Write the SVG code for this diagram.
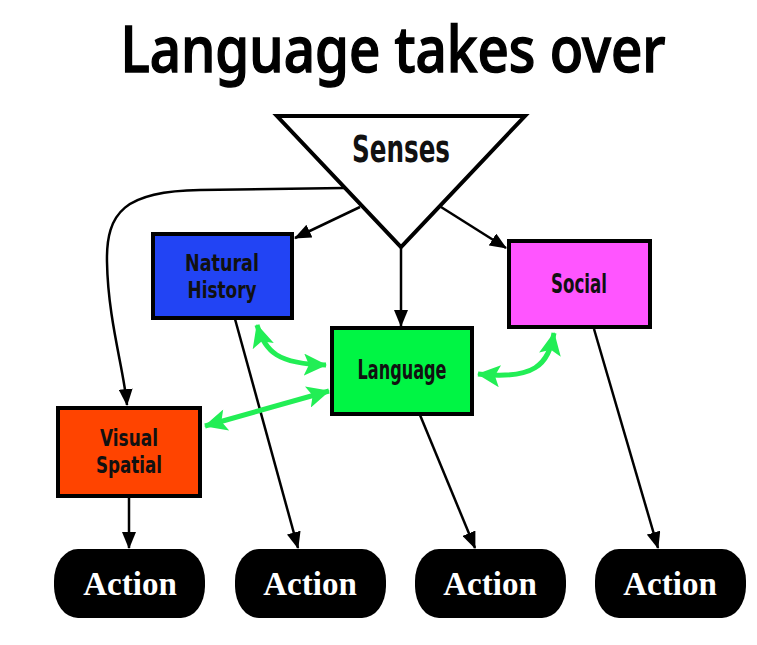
<svg xmlns="http://www.w3.org/2000/svg" width="757" height="645" viewBox="0 0 757 645">
<style>
.box{stroke:#000;stroke-width:4}
.lbl{font-family:"DejaVu Sans Condensed","DejaVu Sans",sans-serif;font-weight:bold;font-size:26px;fill:#111;text-anchor:middle}
.two{font-size:23px}
.big{font-size:38px}
.act{fill:#000}
.acttxt{font-family:"Liberation Serif",serif;font-weight:bold;font-size:33px;fill:#fff;text-anchor:middle}
.blk{fill:none;stroke:#000;stroke-width:2.5}
.grn{fill:none;stroke:#22ee55;stroke-width:5}
.title{font-family:"Noto Sans",sans-serif;font-size:64px;text-anchor:middle;fill:#000}
</style>
<defs>
<marker id="ah" markerUnits="userSpaceOnUse" markerWidth="18" markerHeight="14" refX="16" refY="7" orient="auto">
<path d="M0,0 L17,7 L0,14 z" fill="#000"/>
</marker>
<marker id="gh" markerUnits="userSpaceOnUse" markerWidth="24" markerHeight="22" refX="22" refY="11" orient="auto">
<path d="M0,0 L23,11 L0,22 L5,11 z" fill="#22ee55"/>
</marker>
<marker id="gt" markerUnits="userSpaceOnUse" markerWidth="24" markerHeight="22" refX="1" refY="11" orient="auto">
<path d="M23,0 L0,11 L23,22 L18,11 z" fill="#22ee55"/>
</marker>
</defs>
<rect width="757" height="645" fill="#fff"/>
<text class="title" x="393" y="72" font-weight="500" stroke="#000" stroke-width="1.5" textLength="545" lengthAdjust="spacingAndGlyphs">Language takes over</text>

<g id="connectors">
<path class="blk" d="M360,207 L295,238" marker-end="url(#ah)"/>
<path class="blk" d="M441,207 L506,248" marker-end="url(#ah)"/>
<path class="blk" d="M401,247 L401,326" marker-end="url(#ah)"/>
<path class="blk" d="M344,188 L200,190 C125,191 106,212 107,262 C108,320 124,370 127,405" marker-end="url(#ah)"/>
<path class="blk" d="M129,497 L129,548" marker-end="url(#ah)"/>
<path class="blk" d="M235,319 L298,548" marker-end="url(#ah)"/>
<path class="blk" d="M420,415 L475,548" marker-end="url(#ah)"/>
<path class="blk" d="M594,329 L658,548" marker-end="url(#ah)"/>
<path class="grn" d="M257,325 C265,352 278,364 326,365" marker-start="url(#gt)" marker-end="url(#gh)"/>
<path class="grn" d="M205,426 L329,391" marker-start="url(#gt)" marker-end="url(#gh)"/>
<path class="grn" d="M478,374 C535,380 548,365 554,333" marker-start="url(#gt)" marker-end="url(#gh)"/>
</g>

<g id="senses">
<path d="M277,116 L525,116 L401,247 z" fill="#fff" stroke="#000" stroke-width="4" stroke-linejoin="miter"/>
<text class="lbl big" x="401" y="162" textLength="98" lengthAdjust="spacingAndGlyphs">Senses</text>
</g>
<g id="natural-history">
<rect class="box" x="153" y="234" width="139" height="84" fill="#2244f4"/>
<text class="lbl two" x="222" y="271" textLength="74" lengthAdjust="spacingAndGlyphs">Natural</text>
<text class="lbl two" x="222" y="298" textLength="69" lengthAdjust="spacingAndGlyphs">History</text>
</g>
<g id="social">
<rect class="box" x="509" y="241" width="141" height="86" fill="#ff55ff"/>
<text class="lbl" x="579" y="293" textLength="56" lengthAdjust="spacingAndGlyphs">Social</text>
</g>
<g id="language">
<rect class="box" x="332" y="328" width="140" height="86" fill="#00f544"/>
<text class="lbl" x="402" y="379" textLength="89" lengthAdjust="spacingAndGlyphs">Language</text>
</g>
<g id="visual-spatial">
<rect class="box" x="58" y="408" width="142" height="88" fill="#ff4400"/>
<text class="lbl two" x="129" y="446" textLength="58" lengthAdjust="spacingAndGlyphs">Visual</text>
<text class="lbl two" x="129" y="473" textLength="66" lengthAdjust="spacingAndGlyphs">Spatial</text>
</g>
<g id="action1">
<rect class="act" x="54" y="549" width="151" height="69" rx="24" ry="32"/>
<text class="acttxt" x="130" y="595">Action</text>
</g>
<g id="action2">
<rect class="act" x="235" y="549" width="151" height="69" rx="24" ry="32"/>
<text class="acttxt" x="310" y="595">Action</text>
</g>
<g id="action3">
<rect class="act" x="415" y="549" width="151" height="69" rx="24" ry="32"/>
<text class="acttxt" x="490" y="595">Action</text>
</g>
<g id="action4">
<rect class="act" x="595" y="549" width="151" height="69" rx="24" ry="32"/>
<text class="acttxt" x="670" y="595">Action</text>
</g>
</svg>
